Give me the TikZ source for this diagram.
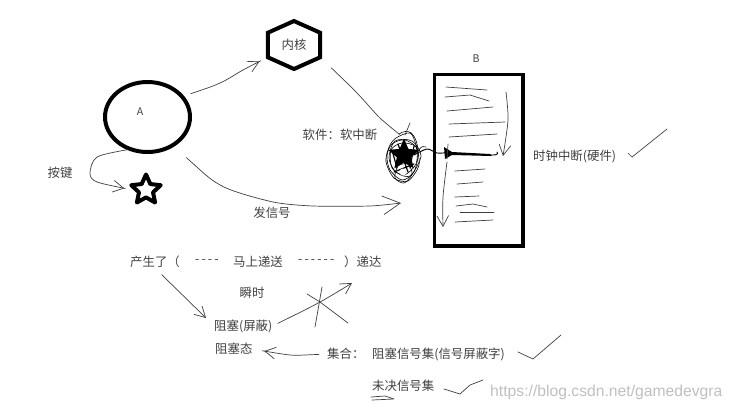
\documentclass[tikz,border=0pt]{standalone}
\usepackage{fontspec}
\setmainfont{Noto Sans CJK SC}
\newfontfamily\markfont{Liberation Sans}
\usetikzlibrary{shapes.geometric,arrows.meta}
\tikzset{
	textlabel/.style={font=\fontsize{10.6}{12}\selectfont,text=black!75,inner sep=0pt},
	smalllabel/.style={font=\fontsize{9}{10}\selectfont,text=black!75,inner sep=0pt},
	thickline/.style={line width=3.4pt,black},
	handline/.style={line width=0.6pt,black!75,line cap=round,line join=round},
	inkline/.style={line width=0.5pt,black},
	bighead/.style={-{Straight Barb[length=15pt,width=16pt,line width=0.6pt]}},
	midhead/.style={-{Straight Barb[length=9pt,width=10pt,line width=0.6pt]}},
}
\begin{document}
\begin{tikzpicture}[x=0.03cm,y=-0.03cm,line cap=round,>=stealth]
	\useasboundingbox (0,0) rectangle (733,410);
	% shapes
	\node[ellipse,draw,thickline,minimum width=85*0.03cm,minimum height=70*0.03cm,inner sep=0pt] (ellA) at (147.5,117) {};
	\node[smalllabel] (labA) at (140,112) {A};
	\node[star,star points=5,star point ratio=2.1,draw,thickline,line join=round,minimum size=31*0.03cm,inner sep=0pt] (starKey) at (146,190) {};
	\node[textlabel,minimum width=52*0.03cm,minimum height=24*0.03cm] (coreHex) at (294,45) {内核};
	\draw[thickline,line join=miter] (coreHex.north west)--(294,21)--(coreHex.north east)--(coreHex.south east)--(294,69)--(coreHex.south west)--cycle;
	\node[draw,thickline,minimum width=88*0.03cm,minimum height=171*0.03cm,inner sep=0pt] (boxB) at (478.5,160) {};
	\node[smalllabel] (labB) at (476,59) {B};
	% scribbled star
	\node[star,star points=5,star point ratio=2.2,fill=black,minimum size=33*0.03cm,inner sep=0pt] (starInk) at (404,155) {};
	\draw[inkline] plot[smooth cycle] coordinates {(396,138) (410,133) (416,145) (419,165) (408,181) (394,178) (386,162) (389,147)};
	\draw[inkline] plot[smooth cycle] coordinates {(392,144) (405,140) (418,150) (414,172) (402,180) (390,170) (387,156)};
	\draw[inkline] plot[smooth cycle] coordinates {(398,166) (408,164) (412,174) (404,183) (395,178)};
	\draw[inkline] plot[smooth cycle] coordinates {(391,150) (402,143) (416,147) (416,164) (404,175) (392,168)};
	\draw[inkline] plot[smooth cycle] coordinates {(395,141) (412,141) (421,156) (410,176) (396,172) (389,158)};
	\draw[line width=1pt] (392,150)--(397,168) (414,146)--(410,168) (394,172)--(414,164) (398,144)--(408,172);
	\fill[white] (403,172) circle (3.5);
	\draw[inkline] (399,134)..controls (408,128) and (416,132)..(418,150);
	\draw[inkline] (419,150)..controls (421,146) and (424,146)..(426,147);
	\draw[handline] (410,123)--(405,135);
	% labels
	\node[textlabel] (labKey) at (60,173) {按键};
	\node[textlabel] (labSoft) at (340,135) {软件：软中断};
	\node[textlabel] (labSig) at (272,213) {发信号};
	\node[textlabel,anchor=west] (labClock) at (533,156) {时钟中断(硬件)};
	\node[textlabel,anchor=west] (labMade) at (130,262) {产生了（};
	\node[textlabel,anchor=west] (labDashA) at (195,262) {-\,-\,-\,-};
	\node[textlabel,anchor=west] (labSend) at (233,262) {马上递送};
	\node[textlabel,anchor=west] (labDashB) at (298,262) {-\,-\,-\,-\,-\,-};
	\node[textlabel,anchor=west] (labDone) at (344,262) {）递达};
	\node[textlabel] (labFlash) at (252,293) {瞬时};
	\node[textlabel,anchor=west] (labBlock) at (214,326) {阻塞(屏蔽)};
	\node[textlabel,anchor=west] (labState) at (215,349) {阻塞态};
	\node[textlabel,anchor=west] (labSet) at (327,354) {集合：};
	\node[textlabel,anchor=west] (labMask) at (372,354) {阻塞信号集(信号屏蔽字)};
	\node[textlabel,anchor=west] (labPend) at (372,386) {未决信号集};
	\node[anchor=west,inner sep=0pt,text=black!25,font=\markfont\fontsize{13.4}{15}\selectfont] (labMark) at (490,392) {https://blog.csdn.net/gamedevgra};
	% connectors
	\draw[handline,midhead,shorten <=6pt,shorten >=8pt] plot[smooth] coordinates {(ellA.30) (220,83) (243,70) (coreHex.south west)};
	\draw[handline,shorten <=13pt,shorten >=6pt] plot[smooth] coordinates {(coreHex.south east) (357,93) (380,118) (starInk.north)};
	\draw[handline,midhead,shorten >=8pt] plot[smooth] coordinates {(ellA.-122) (97,157) (90,173) (97,182) (starKey.west)};
	\draw[handline,bighead,shorten <=14pt] plot[smooth,tension=0.4] coordinates {(ellA.-48) (222,186) (273,202) (313,206) (370,206) (401,203)};
	\draw[handline,midhead,shorten <=8pt] plot[smooth,tension=0.3] coordinates {(labMade.south) (206,318)};
	\draw[handline,midhead,shorten <=5pt] plot[smooth] coordinates {(labBlock.east) (320,302) (352,283)};
	\draw[handline,midhead,shorten <=7pt,shorten >=10pt] plot[smooth,tension=0.3] coordinates {(labSet.west) (290,355) (labState.east)};
	\draw[inkline,line width=0.8pt] plot[smooth] coordinates {(starInk.east) (427,149) (437,153) (448,153) (493,155) (497,152)};
	\fill (444,147)--(452,152)--(490,154)--(492,156)--(452,155)--(445,159)--cycle;
	% cross
	\draw[handline] (307,294)--(320,302)--(348,323) (322,287)--(315,327);
	% page lines
	\foreach \a/\b/\c/\d in {446/87/487/90,447/111/493/107,449/124/505/122,449/137/497/134,455/171/485/169,457/184/483/182,455/197/479/196,460/212/494/212,455/222/493/220}
		\draw[handline] (\a,\b)--(\c,\d);
	\draw[handline] (445,97)--(470,95)--(489,101) (456,206)--(473,204)--(487,207);
	\draw[handline,midhead] plot[smooth] coordinates {(506,92) (508,120) (503,156)};
	\draw[handline,midhead] plot[smooth] coordinates {(447,162) (443,197) (443,227)};
	\draw[handline] (448,144)--(447,159);
	% ticks
	\draw[handline] (628,153)--(632,157)--(667,129);
	\draw[handline] (518,352)--(533,359)--(547,347)--(561,335);
	\draw[handline] (444,389)--(460,394)--(470,385)--(483,380);
	\draw[handline] (371,397)--(385,396)--(394,399)--(372,400);
\end{tikzpicture}
\end{document}
